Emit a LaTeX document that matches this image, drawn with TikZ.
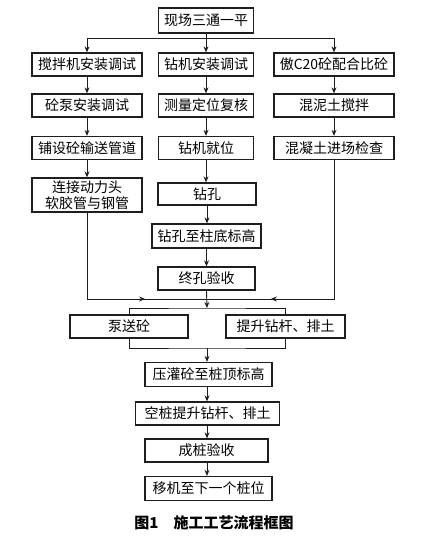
\documentclass[tikz,border=0pt]{standalone}
\usepackage{fontspec}
\setmainfont{Noto Sans CJK SC}
\usetikzlibrary{arrows.meta, positioning, calc, decorations.markings}
\definecolor{boxline}{RGB}{30,30,30}
\tikzset{
  % process box
  flowblock/.style={
    rectangle, draw=boxline, line width=1.3pt, fill=white,
    minimum width=#1, minimum height=23pt, inner sep=0pt,
    text centered, font=\fontsize{14}{16}\selectfont
  },
  flowblock/.default=95pt,
  flowarrow/.style={-{Stealth[length=6pt,width=5pt]}, line width=0.9pt, boxline},
  flowline/.style={line width=0.9pt, boxline},
  % line with an arrow tip part way along
  midarrow/.style={flowline, decoration={markings,
      mark=at position #1 with {\arrow{Stealth[length=6pt,width=5pt]}}},
    postaction={decorate}}
}
\begin{document}
\begin{tikzpicture}[x=1pt, y=-1pt]
  \useasboundingbox (0,0) rectangle (426,540);

  % Top
  \node[flowblock=95pt, minimum height=25pt] (site) at (206,20.5) {现场三通一平};

  % Left column
  \node[flowblock=110pt] (mixer) at (87,64.5) {搅拌机安装调试};
  \node[flowblock=110pt] (pump) at (87,105.5) {砼泵安装调试};
  \node[flowblock=110pt] (pipe) at (87,148) {铺设砼输送管道};
  \node[flowblock=110pt, minimum height=34pt, align=center,
        font=\fontsize{14}{15.5}\selectfont] (hose) at (87,195) {连接动力头\\软胶管与钢管};

  % Middle column
  \node[flowblock=95pt] (rig) at (206,64.5) {钻机安装调试};
  \node[flowblock=95pt] (survey) at (206,105.5) {测量定位复核};
  \node[flowblock=95pt] (place) at (206,148) {钻机就位};
  \node[flowblock=98pt, minimum height=22pt] (drill) at (207,194) {钻孔};
  \node[flowblock=109pt, minimum height=24pt] (depth) at (206.5,236) {钻孔至柱底标高};
  \node[flowblock=97pt] (check) at (206.5,278.5) {终孔验收};

  % Right column
  \node[flowblock=120pt] (mix) at (334,64.5) {傲C20砼配合比砼};
  \node[flowblock=120pt] (stir) at (334,105.5) {混泥土搅拌};
  \node[flowblock=120pt] (deliver) at (334,148) {混凝土进场检查};

  % Parallel pair
  \node[flowblock=118pt] (pour) at (129,326.5) {泵送砼};
  \node[flowblock=119pt] (lift) at (285.5,326.5) {提升钻杆、排土};

  % Lower chain
  \node[flowblock=127pt, minimum height=24pt] (press) at (208.5,374.5) {压灌砼至桩顶标高};
  \node[flowblock=144pt] (empty) at (207.5,413.5) {空桩提升钻杆、排土};
  \node[flowblock=123pt] (accept) at (206.5,450.5) {成桩验收};
  \node[flowblock=127pt, minimum height=24pt] (move) at (208.5,488.5) {移机至下一个桩位};

  % Caption
  \node[font=\fontsize{15}{17}\selectfont\bfseries] (cap) at (214,523) {图1\quad 施工工艺流程框图};

  % Junctions
  \coordinate (jn) at (207,299);
  \coordinate (topbar) at (207,308);
  \coordinate (botbar) at (207,348);

  % Arrows: top split
  \draw[flowarrow] (site.south) -- (rig.north);
  \draw[flowarrow] (site.south) -- ++(0,5) -| (mixer.north);
  \draw[flowarrow] (site.south) -- ++(0,5) -| (mix.north);

  % Arrows: columns
  \draw[flowarrow] (mixer) -- (pump);
  \draw[flowarrow] (pump) -- (pipe);
  \draw[flowarrow] (pipe) -- (hose);
  \draw[flowarrow] (rig) -- (survey);
  \draw[flowarrow] (survey) -- (place);
  \draw[flowarrow] (place.south) -- (place.south |- drill.north);
  \draw[flowarrow] (drill.south) -- (drill.south |- depth.north);
  \draw[flowarrow] (depth.south) -- (depth.south |- check.north);
  \draw[flowarrow] (mix) -- (stir);
  \draw[flowarrow] (stir) -- (deliver);

  % Merge
  \draw[midarrow=0.70] (hose.south) |- (jn);
  \draw[midarrow=0.76] (deliver.south) |- (jn);
  \draw[flowarrow] (check.south) -- (topbar);
  \draw[flowline] (pour.north) |- (topbar) -| (lift.north);
  \draw[flowline] (pour.south) |- (botbar) -| (lift.south);
  \draw[flowarrow] (botbar) -- (botbar |- press.north);

  % Lower chain
  \draw[flowarrow] (press.south -| botbar) -- (botbar |- empty.north);
  \draw[flowarrow] (empty.south -| botbar) -- (botbar |- accept.north);
  \draw[flowarrow] (accept.south -| botbar) -- (botbar |- move.north);
\end{tikzpicture}
\end{document}
